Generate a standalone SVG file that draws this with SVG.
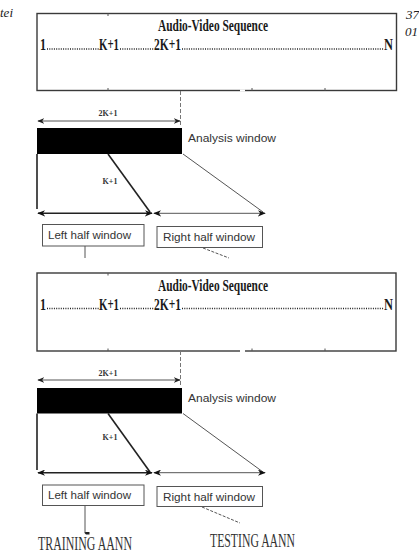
<svg xmlns="http://www.w3.org/2000/svg" width="419" height="557" viewBox="0 0 419 557">
<defs>
<style>
.box{fill:none;stroke:#3a3a3a;stroke-width:1.4}
.lbox{fill:#fff;stroke:#555;stroke-width:1}
.title{font-family:"Liberation Serif",serif;font-weight:bold;font-size:17px;fill:#1a1a1a}
.seq{font-family:"Liberation Serif",serif;font-weight:bold;font-size:17px;fill:#1a1a1a}
.lbl{font-family:"Liberation Sans",sans-serif;font-size:11px;fill:#333}
.small{font-family:"Liberation Serif",serif;font-weight:bold;font-size:8px;fill:#333}
.big{font-family:"Liberation Serif",serif;font-size:18px;fill:#333}
.margin{font-family:"Liberation Serif",serif;font-style:italic;font-size:13px;fill:#222}
.dots{stroke:#222;stroke-width:1.3;stroke-dasharray:1 1.3}
.thick{stroke:#222;stroke-width:1.6;fill:none}
.thin{stroke:#555;stroke-width:1;fill:none}
.vdash{stroke:#777;stroke-width:1;stroke-dasharray:4 2;fill:none}
.dash{stroke:#555;stroke-width:1;stroke-dasharray:3 1.5;fill:none}
</style>
<marker id="ah" viewBox="0 0 10 8" refX="9" refY="4" markerWidth="8" markerHeight="6.4" markerUnits="userSpaceOnUse" orient="auto-start-reverse">
<path d="M0,0 L10,4 L0,8 L3,4 Z" fill="#111"/>
</marker>
<marker id="ahs" viewBox="0 0 10 8" refX="9" refY="4" markerWidth="7" markerHeight="5.6" markerUnits="userSpaceOnUse" orient="auto-start-reverse">
<path d="M0,0 L10,4 L0,8 L3,4 Z" fill="#222"/>
</marker>
<marker id="down" viewBox="0 0 6 10" refX="3" refY="9" markerWidth="3" markerHeight="8" markerUnits="userSpaceOnUse" orient="auto">
<path d="M0,0 L6,0 L6,7 L3,10 L0,7 Z" fill="#222"/>
</marker>
</defs>
<rect width="419" height="557" fill="#fff"/>
<text class="margin" x="0" y="17">tei</text>
<text class="margin" x="406" y="19">37</text>
<text class="margin" x="405" y="36">01</text>

<!-- Panel 1 -->
<g id="seq-box-1">
<rect class="box" x="37" y="13.5" width="359.5" height="77"/>
<line x1="108" y1="13.5" x2="108" y2="16" stroke="#555"/>
<line x1="108" y1="88" x2="108" y2="90.5" stroke="#555"/>
<line x1="252" y1="88" x2="252" y2="90.5" stroke="#555"/>
<line x1="325" y1="88" x2="325" y2="90.5" stroke="#555"/>
<line x1="240" y1="90.5" x2="245" y2="90.5" stroke="#fff" stroke-width="2"/>
<text class="title" x="213" y="31" text-anchor="middle" textLength="110" lengthAdjust="spacingAndGlyphs">Audio-Video Sequence</text>
<text class="seq" x="40" y="50" textLength="6" lengthAdjust="spacingAndGlyphs">1</text>
<line class="dots" x1="47" y1="49" x2="99" y2="49"/>
<text class="seq" x="99" y="50" textLength="20" lengthAdjust="spacingAndGlyphs">K+1</text>
<line class="dots" x1="120" y1="49" x2="154" y2="49"/>
<text class="seq" x="154" y="50" textLength="27" lengthAdjust="spacingAndGlyphs">2K+1</text>
<line class="dots" x1="182" y1="49" x2="384" y2="49"/>
<text class="seq" x="384" y="50" textLength="9" lengthAdjust="spacingAndGlyphs">N</text>
</g>
<g id="analysis-window-1">
<rect x="37" y="128" width="145" height="26" fill="#000"/>
<text class="lbl" x="188" y="142" textLength="88" lengthAdjust="spacingAndGlyphs">Analysis window</text>
<text class="small" x="108" y="116" text-anchor="middle">2K+1</text>
<text class="small" x="110" y="184" text-anchor="middle">K+1</text>
</g>
<g id="left-half-1">
<rect class="lbox" x="42.5" y="224.5" width="101.5" height="21.5"/>
<text class="lbl" x="48" y="239" textLength="83" lengthAdjust="spacingAndGlyphs">Left half window</text>
</g>
<g id="right-half-1">
<rect class="lbox" x="157" y="226.5" width="105.5" height="21"/>
<text class="lbl" x="163" y="241" textLength="92" lengthAdjust="spacingAndGlyphs">Right half window</text>
</g>

<!-- Panel 2 -->
<g id="seq-box-2">
<rect class="box" x="37" y="273" width="359" height="78"/>
<line x1="108" y1="273" x2="108" y2="275.5" stroke="#555"/>
<line x1="108" y1="348.5" x2="108" y2="351" stroke="#555"/>
<line x1="252" y1="348.5" x2="252" y2="351" stroke="#555"/>
<line x1="325" y1="348.5" x2="325" y2="351" stroke="#555"/>
<line x1="240" y1="351" x2="245" y2="351" stroke="#fff" stroke-width="2"/>
<text class="title" x="213" y="290.5" text-anchor="middle" textLength="110" lengthAdjust="spacingAndGlyphs">Audio-Video Sequence</text>
<text class="seq" x="40" y="309.5" textLength="6" lengthAdjust="spacingAndGlyphs">1</text>
<line class="dots" x1="47" y1="308.5" x2="99" y2="308.5"/>
<text class="seq" x="99" y="309.5" textLength="20" lengthAdjust="spacingAndGlyphs">K+1</text>
<line class="dots" x1="120" y1="308.5" x2="154" y2="308.5"/>
<text class="seq" x="154" y="309.5" textLength="27" lengthAdjust="spacingAndGlyphs">2K+1</text>
<line class="dots" x1="182" y1="308.5" x2="384" y2="308.5"/>
<text class="seq" x="384" y="309.5" textLength="9" lengthAdjust="spacingAndGlyphs">N</text>
</g>
<g id="analysis-window-2">
<rect x="37" y="388" width="145" height="25.5" fill="#000"/>
<text class="lbl" x="188" y="402" textLength="88" lengthAdjust="spacingAndGlyphs">Analysis window</text>
<text class="small" x="108" y="375.5" text-anchor="middle">2K+1</text>
<text class="small" x="110" y="440" text-anchor="middle">K+1</text>
</g>
<g id="left-half-2">
<rect class="lbox" x="42.5" y="485" width="101.5" height="20.5"/>
<text class="lbl" x="48" y="499" textLength="83" lengthAdjust="spacingAndGlyphs">Left half window</text>
</g>
<g id="right-half-2">
<rect class="lbox" x="157" y="486.5" width="105.5" height="20"/>
<text class="lbl" x="163" y="500.5" textLength="92" lengthAdjust="spacingAndGlyphs">Right half window</text>
</g>
<g id="training">
<text class="big" x="38" y="550" textLength="94" lengthAdjust="spacingAndGlyphs">TRAINING AANN</text>
</g>
<g id="testing">
<text class="big" x="210" y="547" textLength="85" lengthAdjust="spacingAndGlyphs">TESTING AANN</text>
</g>

<g id="connectors">
<!-- panel 1 -->
<line class="vdash" x1="180.5" y1="91" x2="180.5" y2="127"/>
<line class="thin" x1="38" y1="121" x2="180" y2="121" marker-start="url(#ahs)" marker-end="url(#ahs)"/>
<line class="thick" x1="37" y1="154" x2="37" y2="209"/>
<line class="thick" x1="108" y1="154" x2="150" y2="212"/>
<line class="thin" x1="183" y1="154" x2="263" y2="212"/>
<line class="thick" x1="38" y1="213.3" x2="152" y2="213.3" marker-start="url(#ah)" marker-end="url(#ah)"/>
<line class="thin" x1="154" y1="213.3" x2="265" y2="213.3" marker-start="url(#ah)" marker-end="url(#ah)"/>
<line class="thin" x1="85" y1="246" x2="85" y2="258"/>
<line class="dash" x1="203" y1="248" x2="229" y2="258"/>
<!-- panel 2 -->
<line class="vdash" x1="180.5" y1="351" x2="180.5" y2="387"/>
<line class="thin" x1="38" y1="380" x2="180" y2="380" marker-start="url(#ahs)" marker-end="url(#ahs)"/>
<line class="thick" x1="37" y1="413.5" x2="37" y2="470"/>
<line class="thick" x1="108" y1="413.5" x2="150" y2="472"/>
<line class="thin" x1="183" y1="413.5" x2="263" y2="472"/>
<line class="thick" x1="38" y1="472.7" x2="152" y2="472.7" marker-start="url(#ah)" marker-end="url(#ah)"/>
<line class="thin" x1="154" y1="472.7" x2="265" y2="472.7" marker-start="url(#ah)" marker-end="url(#ah)"/>
<line class="thin" x1="85" y1="505.5" x2="85" y2="533" marker-end="url(#down)"/>
<line class="dash" x1="202" y1="507" x2="240" y2="523"/>
</g>
</svg>
